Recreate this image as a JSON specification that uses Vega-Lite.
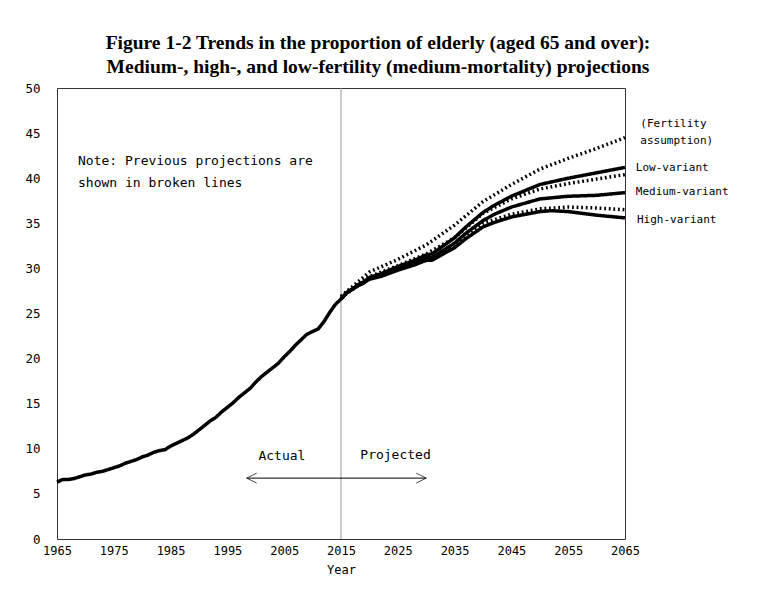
{
  "$schema": "https://vega.github.io/schema/vega-lite/v6.json",
  "width": 568,
  "height": 451,
  "autosize": "none",
  "padding": {"left": 57, "top": 88, "right": 143, "bottom": 60},
  "background": "white",
  "config": {
    "view": {"stroke": "#333", "strokeWidth": 1},
    "axis": {"labelFont": "DejaVu Sans Mono", "labelColor": "black", "titleFont": "DejaVu Sans Mono", "titleColor": "black", "titleFontWeight": "normal", "grid": false, "domain": false, "ticks": false, "tickSize": 0, "labelFlush": false}
  },
  "title": {
    "text": ["Figure 1-2 Trends in the proportion of elderly (aged 65 and over):", "Medium-, high-, and low-fertility (medium-mortality) projections"],
    "font": "Liberation Serif", "fontSize": 19.5, "fontWeight": "bold", "lineHeight": 24,
    "anchor": "middle", "dx": 37, "offset": 5, "color": "black"
  },
  "datasets": {
    "lines": [
      {"series": "Actual", "type": "current", "year": 1965, "value": 6.3},
      {"series": "Actual", "type": "current", "year": 1966, "value": 6.6},
      {"series": "Actual", "type": "current", "year": 1967, "value": 6.6},
      {"series": "Actual", "type": "current", "year": 1968, "value": 6.7},
      {"series": "Actual", "type": "current", "year": 1969, "value": 6.9},
      {"series": "Actual", "type": "current", "year": 1970, "value": 7.1},
      {"series": "Actual", "type": "current", "year": 1971, "value": 7.2},
      {"series": "Actual", "type": "current", "year": 1972, "value": 7.4},
      {"series": "Actual", "type": "current", "year": 1973, "value": 7.5},
      {"series": "Actual", "type": "current", "year": 1974, "value": 7.7},
      {"series": "Actual", "type": "current", "year": 1975, "value": 7.9},
      {"series": "Actual", "type": "current", "year": 1976, "value": 8.1},
      {"series": "Actual", "type": "current", "year": 1977, "value": 8.4},
      {"series": "Actual", "type": "current", "year": 1978, "value": 8.6},
      {"series": "Actual", "type": "current", "year": 1979, "value": 8.8},
      {"series": "Actual", "type": "current", "year": 1980, "value": 9.1},
      {"series": "Actual", "type": "current", "year": 1981, "value": 9.3},
      {"series": "Actual", "type": "current", "year": 1982, "value": 9.6},
      {"series": "Actual", "type": "current", "year": 1983, "value": 9.8},
      {"series": "Actual", "type": "current", "year": 1984, "value": 9.9},
      {"series": "Actual", "type": "current", "year": 1985, "value": 10.3},
      {"series": "Actual", "type": "current", "year": 1986, "value": 10.6},
      {"series": "Actual", "type": "current", "year": 1987, "value": 10.9},
      {"series": "Actual", "type": "current", "year": 1988, "value": 11.2},
      {"series": "Actual", "type": "current", "year": 1989, "value": 11.6},
      {"series": "Actual", "type": "current", "year": 1990, "value": 12.1},
      {"series": "Actual", "type": "current", "year": 1991, "value": 12.6},
      {"series": "Actual", "type": "current", "year": 1992, "value": 13.1},
      {"series": "Actual", "type": "current", "year": 1993, "value": 13.5},
      {"series": "Actual", "type": "current", "year": 1994, "value": 14.1},
      {"series": "Actual", "type": "current", "year": 1995, "value": 14.6},
      {"series": "Actual", "type": "current", "year": 1996, "value": 15.1},
      {"series": "Actual", "type": "current", "year": 1997, "value": 15.7},
      {"series": "Actual", "type": "current", "year": 1998, "value": 16.2},
      {"series": "Actual", "type": "current", "year": 1999, "value": 16.7},
      {"series": "Actual", "type": "current", "year": 2000, "value": 17.4},
      {"series": "Actual", "type": "current", "year": 2001, "value": 18.0},
      {"series": "Actual", "type": "current", "year": 2002, "value": 18.5},
      {"series": "Actual", "type": "current", "year": 2003, "value": 19.0},
      {"series": "Actual", "type": "current", "year": 2004, "value": 19.5},
      {"series": "Actual", "type": "current", "year": 2005, "value": 20.2},
      {"series": "Actual", "type": "current", "year": 2006, "value": 20.8},
      {"series": "Actual", "type": "current", "year": 2007, "value": 21.5},
      {"series": "Actual", "type": "current", "year": 2008, "value": 22.1},
      {"series": "Actual", "type": "current", "year": 2009, "value": 22.7},
      {"series": "Actual", "type": "current", "year": 2010, "value": 23.0},
      {"series": "Actual", "type": "current", "year": 2011, "value": 23.3},
      {"series": "Actual", "type": "current", "year": 2012, "value": 24.1},
      {"series": "Actual", "type": "current", "year": 2013, "value": 25.1},
      {"series": "Actual", "type": "current", "year": 2014, "value": 26.0},
      {"series": "Actual", "type": "current", "year": 2015, "value": 26.6},

      {"series": "Medium", "type": "current", "year": 2015, "value": 26.6},
      {"series": "Medium", "type": "current", "year": 2016, "value": 27.3},
      {"series": "Medium", "type": "current", "year": 2017, "value": 27.7},
      {"series": "Medium", "type": "current", "year": 2018, "value": 28.1},
      {"series": "Medium", "type": "current", "year": 2019, "value": 28.4},
      {"series": "Medium", "type": "current", "year": 2020, "value": 28.9},
      {"series": "Medium", "type": "current", "year": 2022, "value": 29.2},
      {"series": "Medium", "type": "current", "year": 2025, "value": 30.0},
      {"series": "Medium", "type": "current", "year": 2028, "value": 30.6},
      {"series": "Medium", "type": "current", "year": 2030, "value": 31.2},
      {"series": "Medium", "type": "current", "year": 2031, "value": 31.2},
      {"series": "Medium", "type": "current", "year": 2033, "value": 32.0},
      {"series": "Medium", "type": "current", "year": 2035, "value": 32.8},
      {"series": "Medium", "type": "current", "year": 2037, "value": 33.9},
      {"series": "Medium", "type": "current", "year": 2040, "value": 35.3},
      {"series": "Medium", "type": "current", "year": 2042, "value": 36.0},
      {"series": "Medium", "type": "current", "year": 2045, "value": 36.8},
      {"series": "Medium", "type": "current", "year": 2050, "value": 37.7},
      {"series": "Medium", "type": "current", "year": 2055, "value": 38.0},
      {"series": "Medium", "type": "current", "year": 2060, "value": 38.1},
      {"series": "Medium", "type": "current", "year": 2065, "value": 38.4},

      {"series": "Low", "type": "current", "year": 2015, "value": 26.6},
      {"series": "Low", "type": "current", "year": 2016, "value": 27.3},
      {"series": "Low", "type": "current", "year": 2017, "value": 27.7},
      {"series": "Low", "type": "current", "year": 2018, "value": 28.2},
      {"series": "Low", "type": "current", "year": 2019, "value": 28.5},
      {"series": "Low", "type": "current", "year": 2020, "value": 29.0},
      {"series": "Low", "type": "current", "year": 2022, "value": 29.4},
      {"series": "Low", "type": "current", "year": 2025, "value": 30.2},
      {"series": "Low", "type": "current", "year": 2028, "value": 30.9},
      {"series": "Low", "type": "current", "year": 2030, "value": 31.5},
      {"series": "Low", "type": "current", "year": 2031, "value": 31.6},
      {"series": "Low", "type": "current", "year": 2033, "value": 32.5},
      {"series": "Low", "type": "current", "year": 2035, "value": 33.4},
      {"series": "Low", "type": "current", "year": 2037, "value": 34.6},
      {"series": "Low", "type": "current", "year": 2040, "value": 36.2},
      {"series": "Low", "type": "current", "year": 2042, "value": 37.0},
      {"series": "Low", "type": "current", "year": 2045, "value": 38.0},
      {"series": "Low", "type": "current", "year": 2050, "value": 39.3},
      {"series": "Low", "type": "current", "year": 2055, "value": 40.0},
      {"series": "Low", "type": "current", "year": 2060, "value": 40.6},
      {"series": "Low", "type": "current", "year": 2065, "value": 41.2},

      {"series": "High", "type": "current", "year": 2015, "value": 26.6},
      {"series": "High", "type": "current", "year": 2016, "value": 27.3},
      {"series": "High", "type": "current", "year": 2017, "value": 27.7},
      {"series": "High", "type": "current", "year": 2018, "value": 28.1},
      {"series": "High", "type": "current", "year": 2019, "value": 28.4},
      {"series": "High", "type": "current", "year": 2020, "value": 28.8},
      {"series": "High", "type": "current", "year": 2022, "value": 29.1},
      {"series": "High", "type": "current", "year": 2025, "value": 29.8},
      {"series": "High", "type": "current", "year": 2028, "value": 30.4},
      {"series": "High", "type": "current", "year": 2030, "value": 30.9},
      {"series": "High", "type": "current", "year": 2031, "value": 30.9},
      {"series": "High", "type": "current", "year": 2033, "value": 31.6},
      {"series": "High", "type": "current", "year": 2035, "value": 32.3},
      {"series": "High", "type": "current", "year": 2037, "value": 33.3},
      {"series": "High", "type": "current", "year": 2040, "value": 34.6},
      {"series": "High", "type": "current", "year": 2042, "value": 35.1},
      {"series": "High", "type": "current", "year": 2045, "value": 35.7},
      {"series": "High", "type": "current", "year": 2050, "value": 36.3},
      {"series": "High", "type": "current", "year": 2052, "value": 36.4},
      {"series": "High", "type": "current", "year": 2055, "value": 36.3},
      {"series": "High", "type": "current", "year": 2060, "value": 35.9},
      {"series": "High", "type": "current", "year": 2065, "value": 35.6},

      {"series": "PrevLow", "type": "previous", "year": 2015, "value": 26.9},
      {"series": "PrevLow", "type": "previous", "year": 2020, "value": 29.6},
      {"series": "PrevLow", "type": "previous", "year": 2025, "value": 31.0},
      {"series": "PrevLow", "type": "previous", "year": 2030, "value": 32.6},
      {"series": "PrevLow", "type": "previous", "year": 2035, "value": 34.8},
      {"series": "PrevLow", "type": "previous", "year": 2040, "value": 37.4},
      {"series": "PrevLow", "type": "previous", "year": 2045, "value": 39.3},
      {"series": "PrevLow", "type": "previous", "year": 2050, "value": 41.0},
      {"series": "PrevLow", "type": "previous", "year": 2055, "value": 42.2},
      {"series": "PrevLow", "type": "previous", "year": 2060, "value": 43.3},
      {"series": "PrevLow", "type": "previous", "year": 2065, "value": 44.5},

      {"series": "PrevMedium", "type": "previous", "year": 2015, "value": 26.8},
      {"series": "PrevMedium", "type": "previous", "year": 2020, "value": 29.1},
      {"series": "PrevMedium", "type": "previous", "year": 2025, "value": 30.3},
      {"series": "PrevMedium", "type": "previous", "year": 2030, "value": 31.6},
      {"series": "PrevMedium", "type": "previous", "year": 2035, "value": 33.4},
      {"series": "PrevMedium", "type": "previous", "year": 2040, "value": 36.1},
      {"series": "PrevMedium", "type": "previous", "year": 2045, "value": 37.7},
      {"series": "PrevMedium", "type": "previous", "year": 2050, "value": 38.8},
      {"series": "PrevMedium", "type": "previous", "year": 2055, "value": 39.4},
      {"series": "PrevMedium", "type": "previous", "year": 2060, "value": 39.9},
      {"series": "PrevMedium", "type": "previous", "year": 2065, "value": 40.4},

      {"series": "PrevHigh", "type": "previous", "year": 2015, "value": 26.8},
      {"series": "PrevHigh", "type": "previous", "year": 2020, "value": 28.9},
      {"series": "PrevHigh", "type": "previous", "year": 2025, "value": 29.9},
      {"series": "PrevHigh", "type": "previous", "year": 2030, "value": 30.9},
      {"series": "PrevHigh", "type": "previous", "year": 2035, "value": 32.4},
      {"series": "PrevHigh", "type": "previous", "year": 2040, "value": 35.0},
      {"series": "PrevHigh", "type": "previous", "year": 2045, "value": 36.0},
      {"series": "PrevHigh", "type": "previous", "year": 2050, "value": 36.6},
      {"series": "PrevHigh", "type": "previous", "year": 2055, "value": 36.8},
      {"series": "PrevHigh", "type": "previous", "year": 2060, "value": 36.7},
      {"series": "PrevHigh", "type": "previous", "year": 2065, "value": 36.5}
    ],
    "divider": [{"year": 2015}],
    "arrow": [{"x1": 1998.4, "x2": 2030.0, "value": 6.75}],
    "heads": [
      {"year": 1998.4, "value": 6.75, "dir": "left"},
      {"year": 2030.0, "value": 6.75, "dir": "right"}
    ],
    "notes": [
      {"year": 1968.7, "value": 41.9, "text": "Note: Previous projections are"},
      {"year": 1968.7, "value": 39.5, "text": "shown in broken lines"}
    ],
    "centerText": [
      {"year": 2004.6, "value": 9.2, "text": "Actual"},
      {"year": 2024.6, "value": 9.3, "text": "Projected"}
    ],
    "sideText": [
      {"year": 2067.7, "value": 46.0, "text": "(Fertility"},
      {"year": 2067.7, "value": 44.1, "text": " assumption)"},
      {"year": 2066.9, "value": 41.1, "text": "Low-variant"},
      {"year": 2066.9, "value": 38.5, "text": "Medium-variant"},
      {"year": 2067.1, "value": 35.4, "text": "High-variant"}
    ]
  },
  "layer": [
    {
      "data": {"name": "divider"},
      "mark": {"type": "rule", "color": "#999", "strokeWidth": 1},
      "encoding": {
        "x": {"field": "year", "type": "quantitative", "scale": {"domain": [1965, 2065], "nice": false, "zero": false},
          "axis": {"values": [1965, 1975, 1985, 1995, 2005, 2015, 2025, 2035, 2045, 2055, 2065], "format": "d", "labelFontSize": 12, "labelPadding": 6, "title": "Year", "titleFontSize": 12, "titlePadding": 8}},
        "y": {"value": 0},
        "y2": {"value": 451}
      }
    },
    {
      "data": {"name": "lines"},
      "mark": {"type": "line", "color": "black", "strokeCap": "butt", "strokeJoin": "round"},
      "encoding": {
        "x": {"field": "year", "type": "quantitative"},
        "y": {"field": "value", "type": "quantitative", "scale": {"domain": [0, 50], "nice": false},
          "axis": {"values": [0, 5, 10, 15, 20, 25, 30, 35, 40, 45, 50], "labelFontSize": 12.5, "labelPadding": 17, "title": null}},
        "detail": {"field": "series"},
        "strokeDash": {"field": "type", "type": "nominal", "scale": {"domain": ["current", "previous"], "range": [[1, 0], [1.8, 2.8]]}, "legend": null},
        "strokeWidth": {"field": "series", "type": "nominal", "scale": {"domain": ["Actual", "Medium", "Low", "High", "PrevLow", "PrevMedium", "PrevHigh"], "range": [3.5, 3.5, 2.2, 2.2, 1.8, 1.8, 1.8]}, "legend": null}
      }
    },
    {
      "data": {"name": "arrow"},
      "mark": {"type": "rule", "color": "black", "strokeWidth": 1},
      "encoding": {
        "x": {"field": "x1", "type": "quantitative"},
        "x2": {"field": "x2"},
        "y": {"field": "value", "type": "quantitative"}
      }
    },
    {
      "data": {"name": "heads"},
      "mark": {"type": "point", "filled": false, "color": "black", "strokeWidth": 1, "size": 100},
      "encoding": {
        "x": {"field": "year", "type": "quantitative"},
        "y": {"field": "value", "type": "quantitative"},
        "shape": {"field": "dir", "type": "nominal", "scale": {"domain": ["left", "right"], "range": ["M 2 -1 L 0 0 L 2 1", "M -2 -1 L 0 0 L -2 1"]}, "legend": null}
      }
    },
    {
      "data": {"name": "notes"},
      "mark": {"type": "text", "align": "left", "baseline": "middle", "font": "DejaVu Sans Mono", "fontSize": 13, "color": "black"},
      "encoding": {
        "x": {"field": "year", "type": "quantitative"},
        "y": {"field": "value", "type": "quantitative"},
        "text": {"field": "text"}
      }
    },
    {
      "data": {"name": "centerText"},
      "mark": {"type": "text", "align": "center", "baseline": "middle", "font": "DejaVu Sans Mono", "fontSize": 13, "color": "black"},
      "encoding": {
        "x": {"field": "year", "type": "quantitative"},
        "y": {"field": "value", "type": "quantitative"},
        "text": {"field": "text"}
      }
    },
    {
      "data": {"name": "sideText"},
      "mark": {"type": "text", "align": "left", "baseline": "middle", "font": "DejaVu Sans Mono", "fontSize": 11, "color": "black"},
      "encoding": {
        "x": {"field": "year", "type": "quantitative"},
        "y": {"field": "value", "type": "quantitative"},
        "text": {"field": "text"}
      }
    }
  ]
}
